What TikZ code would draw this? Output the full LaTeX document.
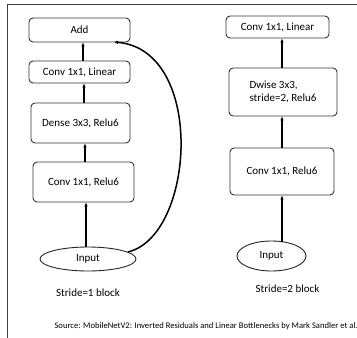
\documentclass[tikz,border=0pt]{standalone}
\usepackage{fontspec}
\setmainfont{Carlito}
\usetikzlibrary{arrows.meta,shapes.geometric}
\begin{document}
\begin{tikzpicture}[x=1pt,y=-1pt,
  block/.style={draw=black!80,line width=0.9pt,rounded corners=4pt,
    inner sep=0pt,font=\fontsize{11}{13.5}\selectfont},
  inblob/.style={draw=black!85,line width=0.9pt,ellipse,inner sep=0pt,
    font=\fontsize{11}{13}\selectfont},
  caption/.style={font=\fontsize{11}{13}\selectfont},
  flow/.style={line width=1.5pt,-{Latex[length=4pt,width=3.6pt]}},
]
\useasboundingbox (0,0) rectangle (357,338);
% frame
\draw[black!75,line width=0.9pt] (7,338) -- (7,4) -- (357,4);

% stride = 1 block
\node[block,minimum width=101pt,minimum height=24pt] (add) at (79.5,30) {Add};
\node[block,minimum width=101pt,minimum height=22pt] (linL) at (79.5,72) {Conv 1x1, Linear};
\node[block,minimum width=99pt,minimum height=40pt] (dense) at (80.5,123) {Dense 3x3, Relu6};
\node[block,minimum width=101pt,minimum height=40pt] (convL) at (83.5,182) {Conv 1x1, Relu6};
\node[inblob,minimum width=96pt,minimum height=24pt] (inL) at (88,259) {Input};
\node[caption] (capL) at (88,293) {Stride=1 block};

\draw[flow] (inL.north -| 86,0) -- (convL.south -| 86,0);
\draw[flow] (convL.north -| 85,0) -- (dense.south -| 85,0);
\draw[flow] (dense.north -| 84,0) -- (linL.south -| 84,0);
\draw[flow] (linL.north -| 83,0) -- (add.south -| 83,0);
\coordinate (skipin) at (114,42);
\draw[flow] (inL.10) .. controls (195,236) and (206,50) .. (skipin);

% stride = 2 block
\node[block,minimum width=103pt,minimum height=22pt] (linR) at (277.5,27) {Conv 1x1, Linear};
\node[block,minimum width=108pt,minimum height=48pt,align=left] (dw) at (283,92)
  {Dwise 3x3,\\ stride=2, Relu6};
\node[block,minimum width=104pt,minimum height=47pt] (convR) at (282,171.5) {Conv 1x1, Relu6};
\node[inblob,minimum width=69pt,minimum height=30pt] (inR) at (271.5,256) {Input};
\node[caption] (capR) at (287.5,289) {Stride=2 block};

\draw[flow] (282,242) -- (convR.south -| 282,0);
\draw[flow] (convR.north -| 282,0) -- (dw.south -| 282,0);
\draw[flow] (dw.north -| 282,0) -- (linR.south -| 282,0);

% source line
\node[font=\fontsize{8.6}{10}\selectfont,anchor=west] (src) at (51,326)
  {Source: MobileNetV2: Inverted Residuals and Linear Bottlenecks by Mark Sandler et al.};
\end{tikzpicture}
\end{document}
